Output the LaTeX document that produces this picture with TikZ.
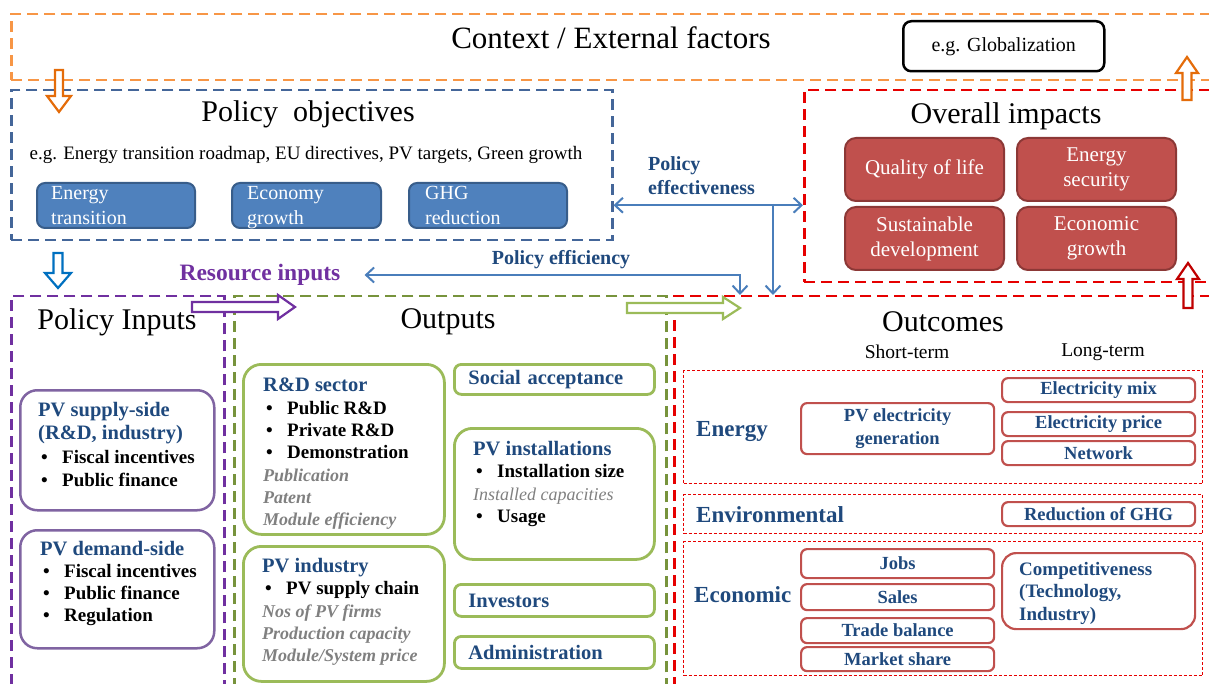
\documentclass[tikz,border=0pt]{standalone}
\usepackage{fontspec}
\setmainfont{Liberation Serif}
\usetikzlibrary{arrows.meta}
\definecolor{ctxorange}{RGB}{247,150,70}
\definecolor{arrorange}{RGB}{228,108,10}
\definecolor{objblue}{RGB}{68,102,153}
\definecolor{boxblue}{RGB}{79,129,189}
\definecolor{boxblueB}{RGB}{56,93,138}
\definecolor{arrblue}{RGB}{0,112,192}
\definecolor{connblue}{RGB}{74,126,187}
\definecolor{purpD}{RGB}{112,48,160}
\definecolor{purpB}{RGB}{128,100,162}
\definecolor{greenD}{RGB}{119,147,60}
\definecolor{greenB}{RGB}{155,187,89}
\definecolor{redD}{RGB}{230,0,0}
\definecolor{redA}{RGB}{192,0,0}
\definecolor{redF}{RGB}{192,80,77}
\definecolor{redB}{RGB}{140,56,54}
\definecolor{tblue}{RGB}{31,73,125}
\definecolor{tgray}{RGB}{128,128,128}
\newcommand{\ttl}[1]{{\color{tblue}\fontsize{20.5}{23}\selectfont #1}}
\newcommand{\bitem}[1]{\hspace*{3pt}\makebox[21pt][l]{\textbullet}#1}
\newcommand{\gitem}[1]{{\color{tgray}\itshape\fontsize{18}{22}\selectfont #1}}
\begin{document}
\begin{tikzpicture}[x=1pt,y=-1pt,
  >={Straight Barb[length=8pt,width=15pt]},
  contbox/.style={line width=2.5pt, dash pattern=on 11pt off 6pt, inner sep=0pt, anchor=north west},
  subdash/.style={draw=redD, line width=1.2pt, dash pattern=on 3pt off 2pt, inner sep=0pt, anchor=north west},
  bluebox/.style={draw=boxblueB, fill=boxblue, line width=2pt, rounded corners=8pt, inner sep=0pt, anchor=north west},
  bluetxt/.style={inner sep=0pt, anchor=north west, align=left, text=white, font=\fontsize{20}{25}\selectfont},
  impbox/.style={draw=redB, fill=redF, line width=2pt, rounded corners=11pt, inner sep=0pt, anchor=north west, text=white, align=center, font=\fontsize{21}{25}\selectfont, minimum width=159pt, minimum height=63pt},
  purpbox/.style={draw=purpB, line width=2.5pt, rounded corners=17pt, inner sep=0pt, anchor=north west},
  greenbox/.style={draw=greenB, line width=2.8pt, rounded corners=18pt, inner sep=0pt, anchor=north west},
  gsmall/.style={greenbox, rounded corners=7pt, text width=172pt, inner xsep=14pt, inner ysep=0pt, align=left, text=tblue, font=\bfseries\fontsize{20.5}{24}\selectfont},
  outbox/.style={draw=redF, line width=2.2pt, rounded corners=6pt, inner sep=0pt, anchor=north west, text=tblue, align=center, font=\bfseries\fontsize{18.5}{23}\selectfont, minimum width=193pt},
  bigtitle/.style={inner sep=0pt, font=\fontsize{30}{34}\selectfont},
  txtnode/.style={inner sep=0pt, anchor=north west, align=left},
  inbtxt/.style={txtnode, font=\bfseries\fontsize{19}{23.5}\selectfont},
  outtxt/.style={txtnode, font=\bfseries\fontsize{19}{22.3}\selectfont},
  cat/.style={inner sep=0pt, anchor=west, text=tblue, font=\bfseries\fontsize{23}{26}\selectfont},
  conn/.style={draw=connblue, line width=2pt},
  hollow/.style={line width=2.2pt, fill=white, line join=miter}]
\useasboundingbox (0,0) rectangle (1209,684);
\clip (0,0) rectangle (1209,684);
% containers
\node[contbox, draw=ctxorange, minimum width=1230pt, minimum height=66pt] (ctx) at (10,13) {};
\node[contbox, draw=objblue, minimum width=601pt, minimum height=150pt] (polobj) at (10,89) {};
\node[contbox, draw=redD, minimum width=430pt, minimum height=192pt] (impacts) at (803,89) {};
\node[contbox, draw=purpD, minimum width=213pt, minimum height=420pt] (inputs) at (10,295) {};
\node[contbox, draw=greenD, minimum width=432pt, minimum height=420pt] (outputs) at (233,295) {};
\node[contbox, draw=redD, minimum width=560pt, minimum height=420pt] (outcomes) at (673,295) {};
% context
\node[bigtitle, font=\fontsize{31}{34}\selectfont] (ctxT) at (611,38) {Context / External factors};
\node[draw, line width=2.5pt, rounded corners=8pt, minimum width=201pt, minimum height=50pt, anchor=north west, inner sep=0pt, font=\fontsize{20}{24}\selectfont] (glob) at (902,20) {e.g. Globalization};
% policy objectives
\node[bigtitle] (polobjT) at (308,114) {Policy\ \ objectives};
\node[inner sep=0pt, font=\fontsize{19}{22}\selectfont] (polobjEg) at (306,155) {e.g. Energy transition roadmap, EU directives, PV targets, Green growth};
\node[bluebox, minimum width=158pt, minimum height=45pt] (obj1) at (36,182) {};
\node[bluetxt] (obj1t) at ([xshift=15pt,yshift=-4pt]obj1.north west) {Energy\\transition};
\node[bluebox, minimum width=149pt, minimum height=45pt] (obj2) at (231,182) {};
\node[bluetxt] (obj2t) at ([xshift=16pt,yshift=-4pt]obj2.north west) {Economy\\growth};
\node[bluebox, minimum width=158pt, minimum height=45pt] (obj3) at (408,182) {};
\node[bluetxt] (obj3t) at ([xshift=17pt,yshift=-4pt]obj3.north west) {GHG\\reduction};
% overall impacts
\node[bigtitle] (impT) at (1006,116) {Overall impacts};
\node[impbox] (imp1) at (844,137) {Quality of life};
\node[impbox] (imp2) at (1016,137) {Energy\\security};
\node[impbox] (imp3) at (844,206) {Sustainable\\development};
\node[impbox] (imp4) at (1016,206) {Economic\\growth};
% labels
\node[txtnode, text=tblue, font=\bfseries\fontsize{20}{24}\selectfont] (effL) at (648,156) {Policy\\effectiveness};
\node[inner sep=0pt, text=purpD, font=\bfseries\fontsize{23.5}{26}\selectfont] (resin) at (260,275) {Resource inputs};
\node[inner sep=0pt, text=tblue, font=\bfseries\fontsize{20}{24}\selectfont] (effiL) at (561,260) {Policy efficiency};
% connectors
\coordinate (effj) at (773,204);
\coordinate (effi) at (740,275);
\draw[conn, <->] ([yshift=-40pt]polobj.east) -- ([yshift=-40pt]polobj.east -| impacts.west);
\draw[conn, ->] (effj) -- (effj |- outcomes.north);
\draw[conn, <->] ([xshift=24pt]resin.east) -- (effi) -- (effi |- outcomes.north);
% section titles
\node[bigtitle] (inT) at (117,322) {Policy Inputs};
\node[bigtitle] (outT) at (448,322) {Outputs};
\node[bigtitle] (ocT) at (943,322) {Outcomes};
% policy inputs
\node[purpbox, minimum width=194pt, minimum height=120pt] (sup) at (19,389) {};
\node[inbtxt] (supT) at ([xshift=19pt,yshift=-13pt]sup.north west) {\ttl{PV supply-side}\\\ttl{(R\&D, industry)}\\\bitem{Fiscal incentives}\\\bitem{Public finance}};
\node[purpbox, minimum width=194pt, minimum height=118pt] (dem) at (19,529) {};
\node[inbtxt, font=\bfseries\fontsize{19}{22}\selectfont] (demT) at ([xshift=21pt,yshift=-12pt]dem.north west) {\ttl{PV demand-side}\\\bitem{Fiscal incentives}\\\bitem{Public finance}\\\bitem{Regulation}};
% outputs
\node[greenbox, minimum width=201pt, minimum height=170pt] (rd) at (242,363) {};
\node[outtxt] (rdT) at ([xshift=21pt,yshift=-15pt]rd.north west) {\ttl{R\&D sector}\\\bitem{Public R\&D}\\\bitem{Private R\&D}\\\bitem{Demonstration}\\\gitem{Publication}\\\gitem{Patent}\\\gitem{Module efficiency}};
\node[greenbox, minimum width=201pt, minimum height=135pt] (pvi) at (242,545) {};
\node[outtxt] (pviT) at ([xshift=20pt,yshift=-13pt]pvi.north west) {\ttl{PV industry}\\\bitem{PV supply chain}\\\gitem{Nos of PV firms}\\\gitem{Production capacity}\\\gitem{Module/System price}};
\node[gsmall, minimum height=30pt] (soc) at (453,363) {Social acceptance};
\node[greenbox, minimum width=200pt, minimum height=131pt] (inst) at (453,427) {};
\node[outtxt] (instT) at ([xshift=20pt,yshift=-14pt]inst.north west) {\ttl{PV installations}\\\bitem{Installation size}\\{\mdseries\gitem{Installed capacities}}\\\bitem{Usage}};
\node[gsmall, minimum height=32pt] (inv) at (453,583) {Investors};
\node[gsmall, minimum height=32pt] (adm) at (453,635) {Administration};
% outcomes
\node[inner sep=0pt, font=\fontsize{19.5}{22}\selectfont] (shortT) at (907,352) {Short-term};
\node[inner sep=0pt, font=\fontsize{19.5}{22}\selectfont] (longT) at (1103,352) {Long-term};
\node[subdash, minimum width=519pt, minimum height=113pt] (enB) at (683,370) {};
\node[subdash, minimum width=519pt, minimum height=39pt] (envB) at (683,494) {};
\node[subdash, minimum width=519pt, minimum height=134pt] (ecoB) at (683,541) {};
\node[cat] (enL) at (696,432) {Energy};
\node[cat] (envL) at (696,515) {Environmental};
\node[cat] (ecoL) at (694,595) {Economic};
\node[outbox, minimum height=51pt] (pvg) at (800,402) {PV electricity\\generation};
\node[outbox, minimum height=24pt] (emix) at (1001,377) {Electricity mix};
\node[outbox, minimum height=24pt] (eprice) at (1001,411) {Electricity price};
\node[outbox, minimum height=24pt] (net) at (1001,440) {Network};
\node[outbox, minimum height=24pt] (rghg) at (1001,501) {Reduction of GHG};
\node[outbox, minimum height=29pt] (jobs) at (800,548) {Jobs};
\node[outbox, minimum height=26pt] (sales) at (800,583) {Sales};
\node[outbox, minimum height=25pt] (trade) at (800,617) {Trade balance};
\node[outbox, minimum height=24pt] (mkt) at (800,646) {Market share};
\node[outbox, minimum height=76pt, rounded corners=14pt] (comp) at (1001,552) {};
\node[txtnode, text=tblue, font=\bfseries\fontsize{19}{22.5}\selectfont] (compT) at ([xshift=18pt,yshift=-10pt]comp.north west) {Competitiveness\\(Technology,\\Industry)};
% hollow block arrows
\draw[hollow, draw=arrorange] (55,70) -- (63,70) -- (63,96) -- (71,96) -- (59,112) -- (47,96) -- (55,96) -- cycle;
\draw[hollow, draw=arrblue] (53.5,253) -- (62.5,253) -- (62.5,273) -- (71,273) -- (58,288) -- (45,273) -- (53.5,273) -- cycle;
\draw[hollow, draw=arrorange] (1182.5,100) -- (1191.5,100) -- (1191.5,73) -- (1198,73) -- (1187,57) -- (1176,73) -- (1182.5,73) -- cycle;
\draw[hollow, draw=redA] (1183.5,308) -- (1192.5,308) -- (1192.5,279) -- (1199,279) -- (1188,263) -- (1177,279) -- (1183.5,279) -- cycle;
\draw[hollow, draw=purpD] (192,302) -- (278,302) -- (278,295) -- (295,307) -- (278,319) -- (278,312) -- (192,312) -- cycle;
\draw[hollow, draw=greenB] (627,303) -- (723,303) -- (723,297) -- (740,308) -- (723,319) -- (723,313) -- (627,313) -- cycle;
\end{tikzpicture}
\end{document}
